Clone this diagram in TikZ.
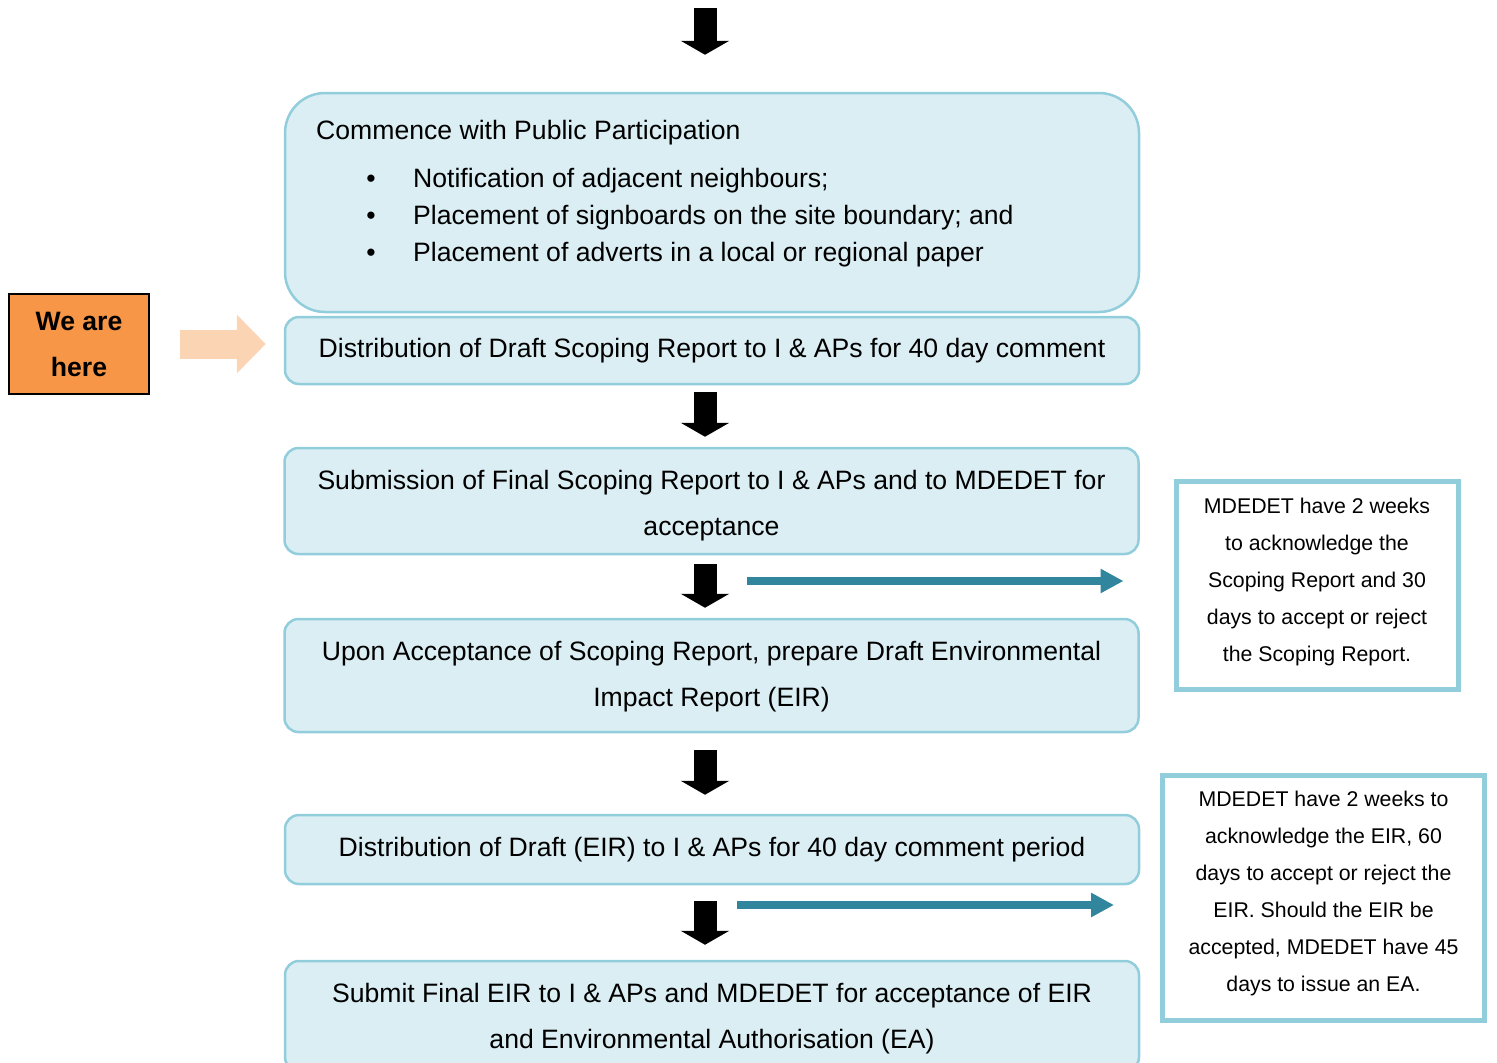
\documentclass[tikz,border=0pt]{standalone}
\usepackage{fontspec}
\setmainfont{Liberation Sans}
\usetikzlibrary{arrows.meta}
\definecolor{boxfill}{HTML}{DAEEF3}
\definecolor{boxline}{HTML}{92CDDC}
\definecolor{orangefill}{HTML}{F79646}
\definecolor{peach}{HTML}{FBD4B4}
\definecolor{tealarrow}{HTML}{31859C}
\begin{document}
\begin{tikzpicture}[x=1pt,y=-1pt,
  mainbox/.style={draw=boxline, fill=boxfill, line width=2.5pt, rounded corners=14pt,
    inner sep=0pt, minimum width=854pt, align=center, font=\fontsize{26.6}{46}\selectfont},
  bigtext/.style={inner sep=0pt, font=\fontsize{26.6}{32}\selectfont},
  twoline/.style={inner sep=0pt, align=center, font=\fontsize{26.6}{46}\selectfont},
  notebox/.style={draw=boxline, fill=white, line width=5pt, inner sep=0pt},
  notetext/.style={inner sep=0pt, align=center, font=\fontsize{21.3}{37}\selectfont},
  herebox/.style={draw=black, fill=orangefill, line width=1.2pt, inner sep=0pt,
    minimum width=140pt, minimum height=100pt, align=center,
    font=\bfseries\fontsize{26.6}{46}\selectfont},
  blkarrow/.style={draw=black, line width=23pt, -{Triangle[width=48pt,length=14pt]}},
  peacharrow/.style={draw=peach, line width=29pt, -{Triangle[width=57pt,length=29pt]}},
  tealarr/.style={draw=tealarrow, line width=8pt, -{Triangle[width=23pt,length=23pt]}}
]
\useasboundingbox (0,0) rectangle (1497,1063);
\clip (0,0) rectangle (1497,1063);

% main boxes
\node[mainbox, rounded corners=40pt, minimum height=219pt] (b1) at (712,202.5) {};
\node[bigtext, anchor=base west] (t1) at (316,139.5) {Commence with Public Participation};
\node[bigtext, anchor=base] (u1) at (371,187.5) {•};
\node[bigtext, anchor=base west] (l1) at (413,187.5) {Notification of adjacent neighbours;};
\node[bigtext, anchor=base] (u2) at (371,224.5) {•};
\node[bigtext, anchor=base west] (l2) at (413,224.5) {Placement of signboards on the site boundary; and};
\node[bigtext, anchor=base] (u3) at (371,261.5) {•};
\node[bigtext, anchor=base west] (l3) at (413,261.5) {Placement of adverts in a local or regional paper};

\node[mainbox, minimum height=67pt] (b2) at (712,350.5)
  {Distribution of Draft Scoping Report to I \& APs for 40 day comment};
\node[mainbox, minimum height=106pt] (b3) at (711.5,501) {};
\node[twoline] (b3t) at ([yshift=-5pt]b3.center)
  {Submission of Final Scoping Report to I \& APs and to MDEDET for\\acceptance};
\node[mainbox, minimum height=113pt] (b4) at (711.5,675.5) {};
\node[twoline] (b4t) at ([yshift=-1pt]b4.center)
  {Upon Acceptance of Scoping Report, prepare Draft Environmental\\Impact Report (EIR)};
\node[mainbox, minimum height=69pt] (b5) at (712,849.5)
  {Distribution of Draft (EIR) to I \& APs for 40 day comment period};
\node[mainbox, minimum height=110pt] (b6) at (712,1016) {};
\node[twoline] (b6t) at ([yshift=-3pt]b6.center)
  {Submit Final EIR to I \& APs and MDEDET for acceptance of EIR\\and Environmental Authorisation (EA)};

% we are here
\node[herebox] (here) at (79,344) {We are\\here};
\draw[peacharrow] ([xshift=30pt]here.east) -- ([xshift=-18pt]here.east -| b2.west);

% note boxes
\node[notebox, minimum width=282pt, minimum height=208pt] (r1) at (1317,585.5) {};
\node[notetext] (r1t) at ([yshift=3.5pt]r1.center)
  {MDEDET have 2 weeks\\to acknowledge the\\Scoping Report and 30\\days to accept or reject\\the Scoping Report.};
\node[notebox, minimum width=322pt, minimum height=245pt] (r2) at (1323.5,898) {};
\node[notetext] (r2t) at ([yshift=4.5pt]r2.center)
  {MDEDET have 2 weeks to\\acknowledge the EIR, 60\\days to accept or reject the\\EIR. Should the EIR be\\accepted, MDEDET have 45\\days to issue an EA.};

% black flow arrows
\coordinate (top) at (705,8);
\draw[blkarrow] (top) -- ([yshift=37pt]top |- b1.north);
\draw[blkarrow] ([yshift=-7pt]top |- b2.south) -- ([yshift=10pt]top |- b3.north);
\draw[blkarrow] ([yshift=-9pt]top |- b3.south) -- ([yshift=10pt]top |- b4.north);
\draw[blkarrow] ([yshift=-17pt]top |- b4.south) -- ([yshift=19pt]top |- b5.north);
\draw[blkarrow] ([yshift=-16pt]top |- b5.south) -- ([yshift=15pt]top |- b6.north);

% teal arrows
\coordinate (s1) at (747,581);
\draw[tealarr] (s1) -- ([xshift=-50pt]s1 -| r1.west);
\coordinate (s2) at (737,905);
\draw[tealarr] (s2) -- ([xshift=-46pt]s2 -| r2.west);
\end{tikzpicture}
\end{document}
